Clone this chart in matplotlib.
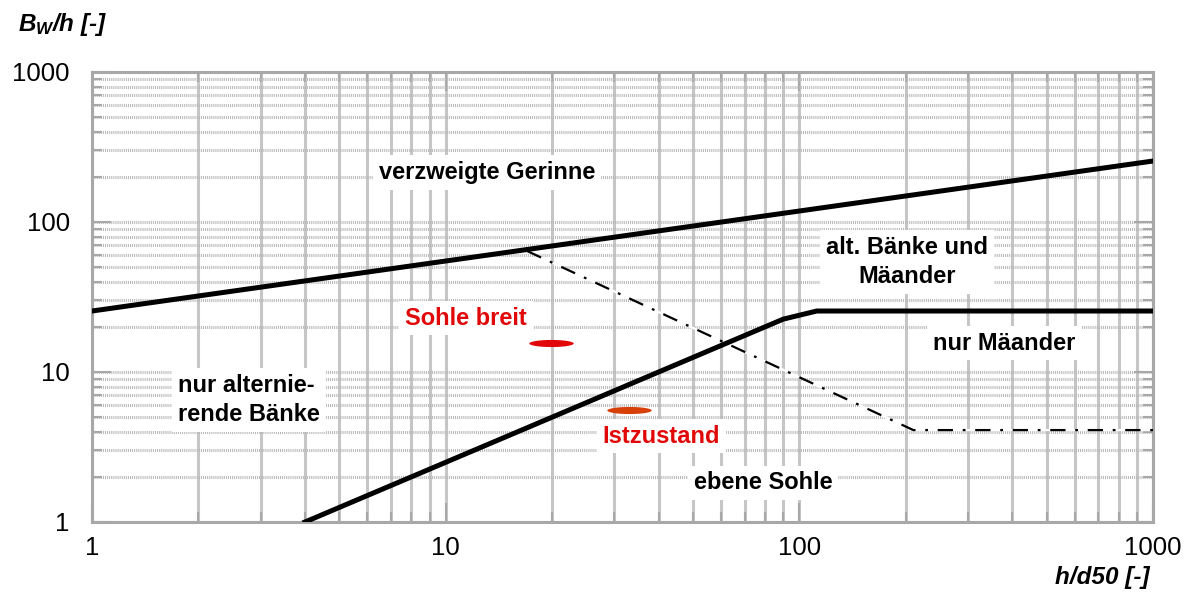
import matplotlib
matplotlib.use("Agg")
import matplotlib.pyplot as plt
import numpy as np
from matplotlib import ticker
from matplotlib.path import Path

plt.rcParams['font.family'] = ['Liberation Sans', 'DejaVu Sans']
plt.rcParams['lines.scale_dashes'] = False
plt.rcParams['mathtext.fontset'] = 'custom'
plt.rcParams['mathtext.it'] = 'Liberation Sans:italic:bold'
plt.rcParams['mathtext.rm'] = 'Liberation Sans:italic:bold'

# boundary lines (h/d50, Bw/h)
upper_x = [1, 1000]
upper_y = [25.5, 255]
lower_x = [4, 90, 112, 1000]
lower_y = [1, 22.5, 25.5, 25.5]
dash_x = [17, 210, 1000]
dash_y = [64, 4.1, 4.1]

# measured states
state_x = [19.9, 32.9]
state_y = [15.5, 5.6]
state_colors = ['#e00808', '#d8400a']

# region labels
region_labels = ['verzweigte Gerinne', 'alt. Bänke und\nMäander', 'nur Mäander',
                 'nur alternie-\nrende Bänke', 'ebene Sohle']
region_x = [13.1, 202, 380, 1.75, 79]
region_y = [215, 54, 15.6, 6.5, 1.82]
region_ha = ['center', 'center', 'center', 'left', 'center']

state_labels = ['Sohle breit', 'Istzustand']
state_lab_x = [11.4, 40.7]
state_lab_y = [22.9, 3.74]

xticks = [1, 10, 100, 1000]
yticks = [1, 10, 100, 1000]

fig = plt.figure(figsize=(11.86, 5.95), dpi=100)
ax = fig.add_axes([0.0776, 0.1227, 0.8946, 0.7563])
ax.set_xscale('log')
ax.set_yscale('log')
ax.set_xlim(1, 1000)
ax.set_ylim(1, 1000)
ax.set_axisbelow(True)

grey = '#a8a8a8'
for s in ax.spines.values():
    s.set_color(grey)
    s.set_linewidth(2.2)

ax.xaxis.set_major_locator(ticker.FixedLocator(xticks))
ax.yaxis.set_major_locator(ticker.FixedLocator(yticks))
ax.xaxis.set_minor_locator(ticker.LogLocator(subs=range(2, 10)))
ax.yaxis.set_minor_locator(ticker.LogLocator(subs=range(2, 10)))
fmt = ticker.FuncFormatter(lambda v, p: f'{v:g}')
ax.xaxis.set_major_formatter(fmt)
ax.yaxis.set_major_formatter(fmt)
ax.xaxis.set_minor_formatter(ticker.NullFormatter())
ax.yaxis.set_minor_formatter(ticker.NullFormatter())

ax.tick_params(which='both', direction='in', top=True, right=True, color=grey,
               width=1.5, labelsize=18.5)
ax.tick_params(which='major', length=14)
ax.tick_params(which='minor', length=7)
ax.tick_params(axis='y', pad=16)
ax.tick_params(axis='x', pad=10)

ax.grid(True, which='both', axis='x', color='#c6c6c6', linewidth=2.2, linestyle='-')
ax.grid(True, which='both', axis='y', color='#b8b8b8', linewidth=2.2,
        linestyle=(0, (0.75, 0.75)))

ax.plot(upper_x, upper_y, color='black', linewidth=3.6, zorder=5)
ax.plot(lower_x, lower_y, color='black', linewidth=3.6, zorder=5)
ax.plot(dash_x, dash_y, color='black', linewidth=1.6, zorder=4,
        linestyle=(0, (11, 7, 2, 7)), gapcolor='white')

t = np.linspace(0, 2 * np.pi, 80)
ell = Path(np.column_stack([np.cos(t), 0.16 * np.sin(t)]), closed=True)
for i in range(len(state_x)):
    ax.plot(state_x[i], state_y[i], marker=ell, markersize=32, color=state_colors[i],
            markeredgewidth=0, linestyle='none', zorder=6)

box = dict(boxstyle='square,pad=0.25', facecolor='white', edgecolor='none')
for i in range(len(region_labels)):
    ax.text(region_x[i], region_y[i], region_labels[i], ha=region_ha[i], va='center',
            multialignment=region_ha[i], fontsize=17, fontweight='bold',
            bbox=box, zorder=3, linespacing=1.35)
for i in range(len(state_labels)):
    ax.text(state_lab_x[i], state_lab_y[i], state_labels[i], ha='center', va='center',
            fontsize=17, fontweight='bold', color='#e00808', bbox=box, zorder=3)

fig.text(0.015, 0.958, r'$B_W$/h [-]', fontsize=17.5, fontweight='bold',
         fontstyle='italic', ha='left', va='center')
fig.text(0.9696, 0.030, 'h/d50 [-]', fontsize=17.5, fontweight='bold',
         fontstyle='italic', ha='right', va='center')

fig.savefig('out.png', dpi=100)
